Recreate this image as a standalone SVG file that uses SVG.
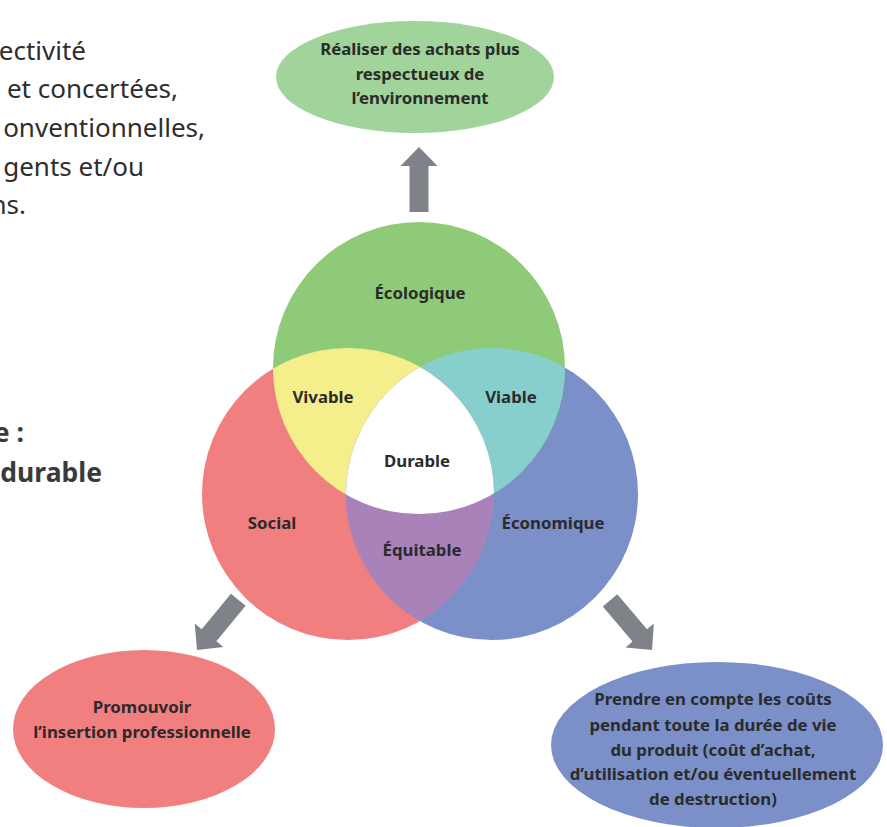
<svg xmlns="http://www.w3.org/2000/svg" width="887" height="827" viewBox="0 0 887 827">
<style>
.para{font-family:"Noto Sans","Open Sans","Liberation Sans",sans-serif;font-size:26px;fill:#2e2e2e;text-anchor:end}
.head{font-family:"Noto Sans","Open Sans","Liberation Sans",sans-serif;font-size:26.5px;font-weight:bold;fill:#3a3a3a;text-anchor:end}
.lbl{font-family:"Noto Sans","Open Sans","Liberation Sans",sans-serif;font-size:16.8px;font-weight:bold;fill:#2b2b2b;text-anchor:middle}
.arrow{fill:#7f8289}
</style>
<defs>
<path id="arr" d="M0,0 L18.5,19 L9.5,19 L9.5,65 L-9.5,65 L-9.5,19 L-18.5,19 Z"/>
<circle id="cG" cx="419" cy="368" r="146"/>
<circle id="cR" cx="348" cy="494" r="146"/>
<circle id="cB" cx="492" cy="494" r="146"/>
<clipPath id="clipG"><use href="#cG"/></clipPath>
<clipPath id="clipR"><use href="#cR"/></clipPath>
<clipPath id="clipB"><use href="#cB"/></clipPath>
</defs>
<rect width="887" height="827" fill="#ffffff"/>
<g id="paragraph">
<text class="para" x="86" y="60">ectivité</text>
<text class="para" x="178" y="98">et concertées,</text>
<text class="para" x="205" y="137">onventionnelles,</text>
<text class="para" x="144" y="176">gents et/ou</text>
<text class="para" x="26" y="214">ns.</text>
</g>
<g id="heading">
<text class="head" x="24" y="442">e :</text>
<text class="head" x="102" y="482">durable</text>
</g>
<g id="venn">
<g id="social"><use href="#cR" fill="#f27f80"/></g>
<g id="economique"><use href="#cB" fill="#7b90c8"/></g>
<g id="ecologique"><use href="#cG" fill="#8fca78"/></g>
<g id="vivable"><use href="#cR" fill="#f4ef8a" clip-path="url(#clipG)"/></g>
<g id="viable"><use href="#cB" fill="#86cfcd" clip-path="url(#clipG)"/></g>
<g id="equitable"><use href="#cB" fill="#a982ba" clip-path="url(#clipR)"/></g>
<g id="durable" clip-path="url(#clipG)"><use href="#cB" fill="#ffffff" clip-path="url(#clipR)"/></g>
<text class="lbl" x="420" y="299">Écologique</text>
<text class="lbl" x="323" y="403">Vivable</text>
<text class="lbl" x="511" y="403">Viable</text>
<text class="lbl" x="417" y="467">Durable</text>
<text class="lbl" x="272" y="529">Social</text>
<text class="lbl" x="553" y="529">Économique</text>
<text class="lbl" x="422" y="556">Équitable</text>
</g>
<g id="connectors">
<use href="#arr" class="arrow" transform="translate(419,147)"/>
<use href="#arr" class="arrow" transform="translate(197,650) rotate(-140.6)"/>
<use href="#arr" class="arrow" transform="translate(652,650) rotate(139.8)"/>
</g>
<g id="goal-env">
<ellipse cx="415" cy="77" rx="139" ry="56" fill="#a0d49a"/>
<text class="lbl" x="420" y="55">Réaliser des achats plus</text>
<text class="lbl" x="420" y="80">respectueux de</text>
<text class="lbl" x="420" y="104">l’environnement</text>
</g>
<g id="goal-social">
<ellipse cx="144" cy="729" rx="131" ry="79" fill="#f27f80"/>
<text class="lbl" x="142" y="713">Promouvoir</text>
<text class="lbl" x="142" y="738">l’insertion professionnelle</text>
</g>
<g id="goal-eco">
<ellipse cx="717" cy="745" rx="166" ry="83" fill="#7b90c8"/>
<text class="lbl" x="713" y="705">Prendre en compte les coûts</text>
<text class="lbl" x="713" y="731">pendant toute la durée de vie</text>
<text class="lbl" x="713" y="756">du produit (coût d’achat,</text>
<text class="lbl" x="713" y="780">d’utilisation et/ou éventuellement</text>
<text class="lbl" x="713" y="805">de destruction)</text>
</g>
</svg>
